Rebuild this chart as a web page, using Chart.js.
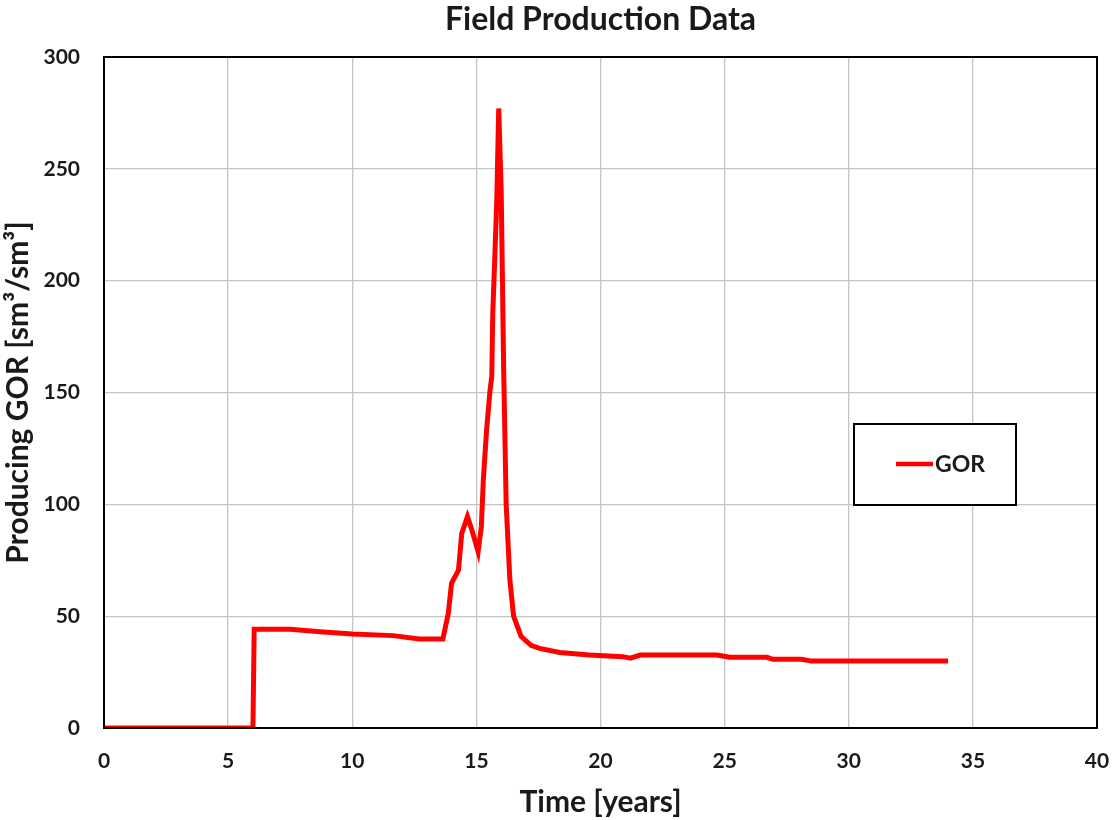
<!DOCTYPE html>
<html>
<head>
<meta charset="utf-8">
<script src="https://cdn.jsdelivr.net/npm/chart.js@4/dist/chart.umd.min.js"></script>
<style>
  body { margin: 0; background: #fff; }
</style>
</head>
<body>
<canvas id="gorChart" width="1113" height="820"></canvas>
<script>
// time in years and producing GOR in sm3/sm3
let years = [0, 6.0, 6.05, 7.5, 8.7, 10, 11.65, 12.7, 13.65, 13.87, 14.0, 14.28, 14.41, 14.64, 14.82,
    15.07, 15.2, 15.28, 15.41, 15.55, 15.62, 15.66, 15.74, 15.82, 15.9, 16.0, 16.1, 16.2, 16.35, 16.5,
    16.8, 17.2, 17.55, 18.35, 19.56, 20.9, 21.2, 21.6, 24.7, 25.2, 26.7, 26.95, 28.1, 28.5, 34.0];
let gor = [0, 0, 44.1, 44.1, 43, 42, 41.3, 39.8, 39.8, 51.3, 64.7, 70.6, 87, 94.5, 88.5,
    78.8, 90, 110.9, 133, 151, 157, 185, 210, 235, 277, 240, 160, 100, 66, 50,
    41, 37, 35.6, 33.8, 32.6, 31.9, 31.2, 32.6, 32.6, 31.6, 31.6, 30.7, 30.7, 29.9, 29.9];

let xTicks = [0, 5, 10, 15, 20, 25, 30, 35, 40];
let yTicks = [0, 50, 100, 150, 200, 250, 300];

let fontName = 'Lato, "Open Sans", sans-serif';

// black frame round the plot area
let frame = {
    id : 'frame',
    afterDatasetsDraw(chart){
        let a = chart.chartArea;
        let ctx = chart.ctx;
        ctx.save();
        ctx.strokeStyle = '#000';
        ctx.lineWidth = 2;
        ctx.strokeRect(a.left, a.top, a.right - a.left, a.bottom - a.top);
        ctx.restore();
    }
}

// boxed legend inside the plot
let boxLegend = {
    id : 'boxLegend',
    afterDraw(chart){
        let ctx = chart.ctx;
        let ds = chart.data.datasets[0];
        ctx.save();
        ctx.fillStyle = '#fff';
        ctx.fillRect(854, 424, 162, 81);
        ctx.strokeStyle = '#000';
        ctx.lineWidth = 2;
        ctx.strokeRect(854, 424, 162, 81);
        ctx.strokeStyle = ds.borderColor;
        ctx.lineWidth = 4.5;
        ctx.beginPath();
        ctx.moveTo(896, 464);
        ctx.lineTo(933, 464);
        ctx.stroke();
        ctx.fillStyle = '#1a1a1a';
        ctx.font = 'bold 23px ' + fontName;
        ctx.textBaseline = 'middle';
        ctx.fillText(ds.label, 935, 465);
        ctx.restore();
    }
}

let config = {
    type : 'line',
    data : {
        datasets : [{
            label : 'GOR',
            data : years.map((t, i) => ({x : t, y : gor[i]})),
            borderColor : '#ff0000',
            borderWidth : 5,
            pointRadius : 0,
            tension : 0,
            fill : false
        }]
    },
    options : {
        responsive : false,
        animation : false,
        layout : { padding : { right : 16 } },
        plugins : {
            legend : { display : false },
            tooltip : { enabled : false },
            title : {
                display : true,
                fullSize : false,
                text : 'Field Production Data',
                color : '#1a1a1a',
                font : { family : fontName, size : 32, weight : 'bold', lineHeight : 1.2 },
                padding : { top : 0, bottom : 18.6 }
            }
        },
        scales : {
            x : {
                type : 'linear',
                min : 0,
                max : 40,
                afterBuildTicks : scale => { scale.ticks = xTicks.map(v => ({value : v})); },
                afterFit : scale => {
                    scale.height = 92;
                    scale.paddingLeft = 0;
                    scale.paddingRight = 0;
                },
                grid : { color : '#c4c4c4', lineWidth : 1.3, drawTicks : false },
                border : { display : false },
                ticks : {
                    padding : 21,
                    color : '#1a1a1a',
                    font : { family : fontName, size : 21, weight : 'bold' }
                },
                title : {
                    display : true,
                    text : 'Time [years]',
                    color : '#1a1a1a',
                    font : { family : fontName, size : 30, weight : 'bold' },
                    padding : { top : 0, bottom : 0 }
                }
            },
            y : {
                min : 0,
                max : 300,
                afterBuildTicks : scale => { scale.ticks = yTicks.map(v => ({value : v})); },
                afterFit : scale => {
                    scale.width = 104;
                    scale.paddingTop = 0;
                    scale.paddingBottom = 0;
                },
                grid : { color : '#c4c4c4', lineWidth : 1.3, drawTicks : false },
                border : { display : false },
                ticks : {
                    padding : 24,
                    color : '#1a1a1a',
                    font : { family : fontName, size : 21, weight : 'bold' }
                },
                title : {
                    display : true,
                    text : 'Producing GOR [sm³/sm³]',
                    color : '#1a1a1a',
                    font : { family : fontName, size : 30, weight : 'bold' },
                    padding : { top : 0, bottom : 0 }
                }
            }
        }
    },
    plugins : [frame, boxLegend]
}

let chart = new Chart(document.getElementById('gorChart'), config);
</script>
</body>
</html>
